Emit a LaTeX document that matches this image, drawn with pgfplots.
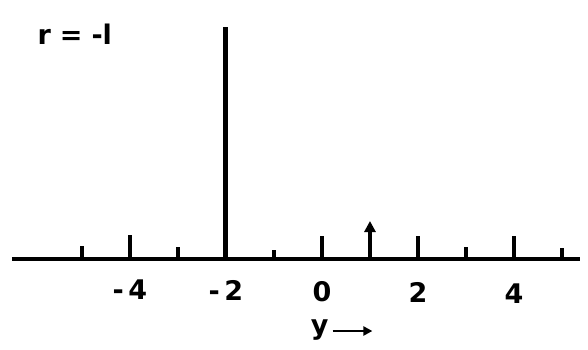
\documentclass[border=0pt]{standalone}
\usepackage{pgfplots}
\pgfplotsset{compat=1.18}
\usepackage{fontspec}
\setmainfont{DejaVu Sans}
\usetikzlibrary{arrows.meta}
\tikzset{lbl/.style={font=\bfseries\fontsize{27}{27}\selectfont}}

\begin{document}
\begin{tikzpicture}
\begin{axis}[
    scale only axis,
    width=588pt, height=349pt,
    xmin=-6.708, xmax=5.542,
    ymin=-90, ymax=259,
    hide axis,
    clip=false,
]
% keep the full frame as bounding box
\path (rel axis cs:0,0) rectangle (rel axis cs:1,1);
% baseline
\addplot[black, line width=3.2pt] coordinates {(-6.46,0) (5.375,0)};
% stems
\addplot[ycomb, black, line width=3.8pt] coordinates {
    (-5,13) (-4,24) (-3,12) (-1,9) (0,23) (2,23) (3,12) (4,23) (5,11)
};
% the large spike at -2
\addplot[ycomb, black, line width=5pt] coordinates {(-2,232)};
% arrow at 1
\addplot[black, line width=3.8pt, -{Triangle[length=11pt,width=11pt]}] coordinates {(1,0) (1,38)};

\node[lbl] at (axis cs:-5.15,225) {r\,\,=\,\,-l};
\node[lbl] at (axis cs:-4,-31) {-\,4};
\node[lbl] at (axis cs:-2,-31) {-\,2};
\node[lbl] at (axis cs:0,-33) {0};
\node[lbl] at (axis cs:2,-33) {2};
\node[lbl] at (axis cs:4,-35) {4};
\node[lbl] at (axis cs:-0.05,-71) {y};
\draw[line width=2.6pt, -{Triangle[length=9pt,width=9pt]}] (axis cs:0.22,-72) -- (axis cs:1.05,-72);
\end{axis}
\end{tikzpicture}
\end{document}
